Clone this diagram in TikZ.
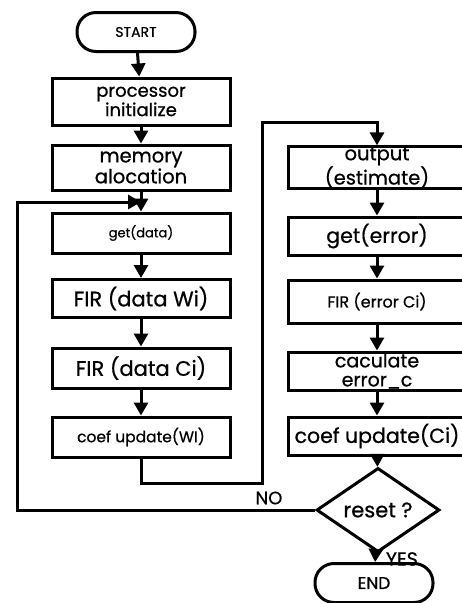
\documentclass[tikz,border=0pt]{standalone}
\usepackage{fontspec}
\setmainfont{Poppins}[FakeBold=0.7]
\usetikzlibrary{shapes.geometric,arrows.meta}

\begin{document}
\begin{tikzpicture} [
                x=1pt,y=-1pt,
                block/.style={draw,line width=3pt,minimum width=178pt,inner sep=0pt,align=center},
                term/.style={draw,line width=3pt,rounded corners=19pt,minimum width=118pt,minimum height=39pt,inner sep=0pt},
                decision/.style={draw,diamond,line width=3pt,minimum width=123pt,minimum height=54pt,inner sep=0pt},
                flow/.style={draw,line width=3pt,-{Triangle[width=14pt,length=13pt]}},
            ]
            \useasboundingbox (0,0) rectangle (462,603);
            \node[term,font=\fontsize{14}{15}\selectfont] (start) at (136,32) {START};
            \foreach \pos/\name/\h/\sz/\txt in {
                    {(141,101.5)/init/47/18/{processor\\initialize}},
                    {(141,167.5)/mem/45/19.5/{memory\\alocation}},
                    {(141,233)/getdata/40/13/{get(data)}},
                    {(141,298.5)/firw/38/21/{FIR (data Wi)}},
                    {(141,368)/firc/40/21/{FIR (data Ci)}},
                    {(141,437)/updw/40/15.5/{coef update(WI)}},
                    {(377,167.5)/out/41/19.5/{output\\(estimate)}},
                    {(377,236)/geterr/38/20.5/{get(error)}},
                    {(377,301.5)/fire/43/16/{FIR (error Ci)}},
                    {(377,371)/calc/38/19/{caculate\\error\_c}},
                    {(377,436)/updc/38/20.5/{coef update(Ci)}}}
                \node[block,minimum height=\h pt,font=\fontsize{\sz}{\sz}\selectfont] (\name) at \pos {\txt};
            \node[decision,font=\fontsize{21}{22}\selectfont] (reset) at (378,510) {reset ?};
            \node[term,font=\fontsize{17}{18}\selectfont] (stop) at (374,583) {END};

            \coordinate (jogb) at (262,483);
            \coordinate (jogc) at (262,122);
            \coordinate (loopa) at (17,510);
            \coordinate (loopb) at (17,202);
            \coordinate (merge) at (141,202);

            \foreach \source/ \dest in {
                    start/init,init/mem,mem/getdata,getdata/firw,firw/firc,firc/updw,
                    out/geterr,geterr/fire,fire/calc,calc/updc,updc/reset}
                \path[flow] (\source) -- (\dest);
            \path[flow] (updw.south) |- (jogb) -- (jogc) -| (out.north);
            \path[flow] (reset.west) -- (loopa) -- (loopb) -- (merge);
            \path[flow] (reset) -- node[right,inner sep=0pt,xshift=9pt,yshift=-2pt,font=\fontsize{19}{20}\selectfont] (yes) {YES} (stop);
            \node[font=\fontsize{18}{19}\selectfont] (no) at (269,498) {NO};
        \end{tikzpicture}
\end{document}
